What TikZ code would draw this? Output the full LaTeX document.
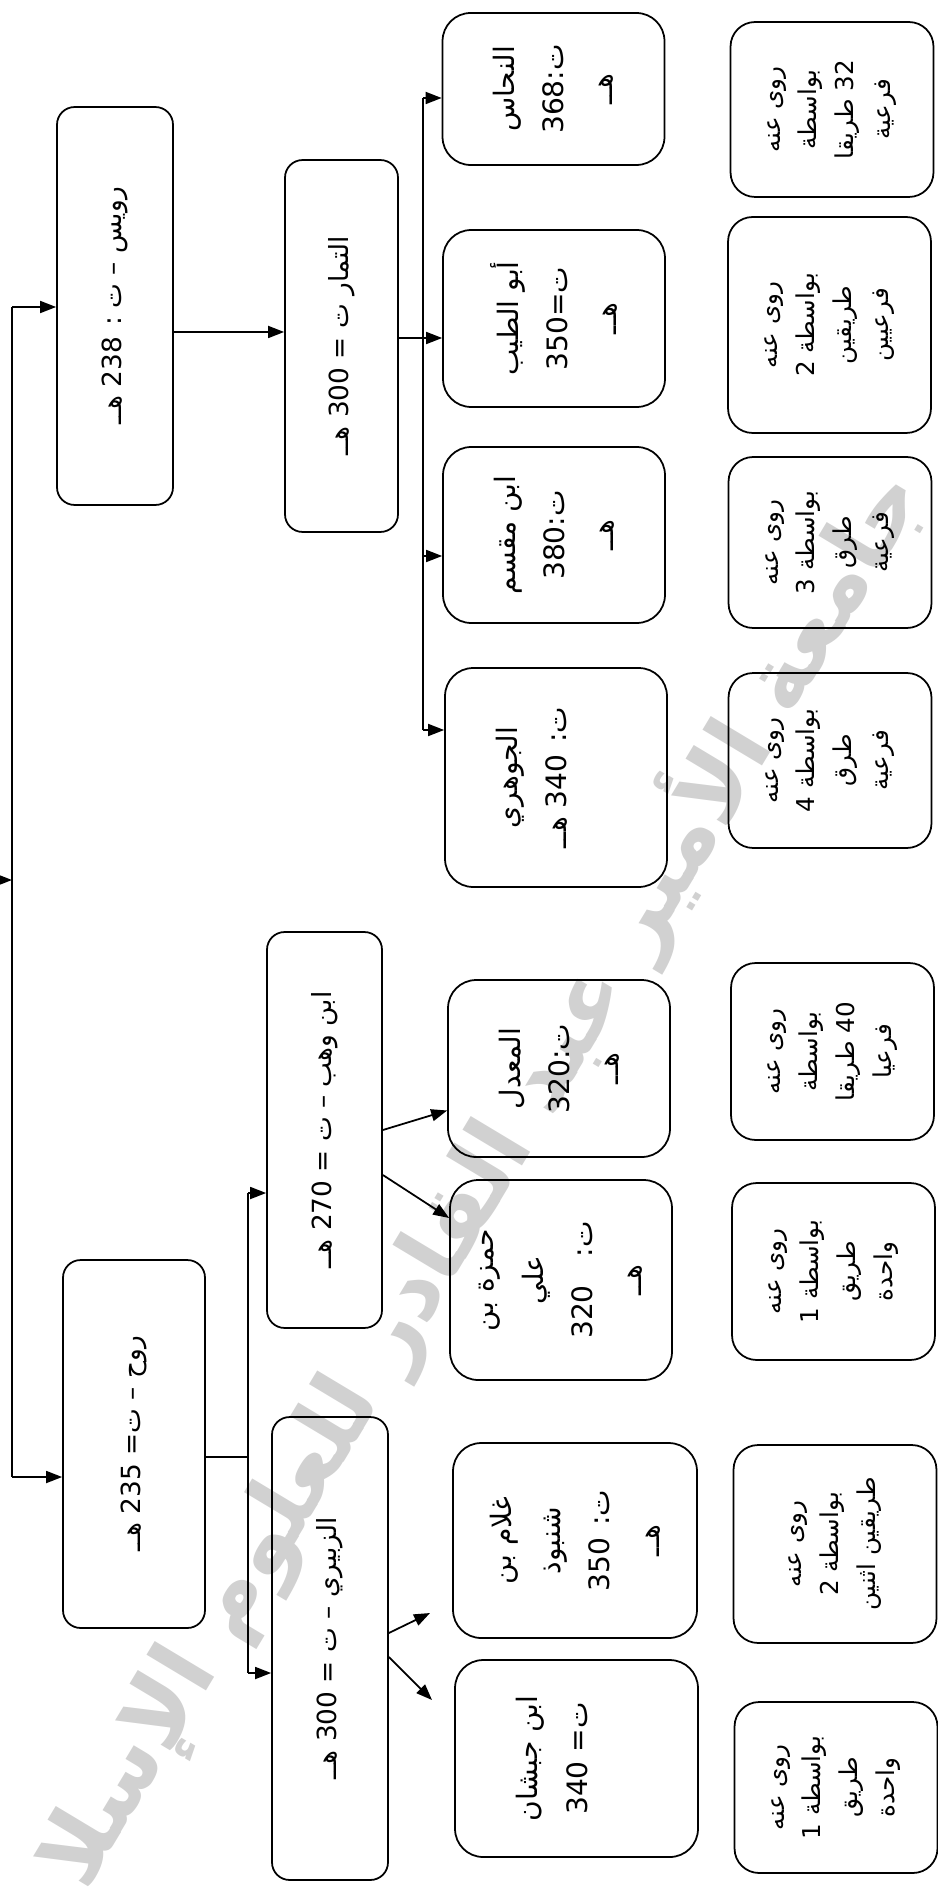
\documentclass[tikz,border=0pt]{standalone}
\usepackage{fontspec}
\usetikzlibrary{arrows.meta}
\newfontfamily\arabicfont[Script=Arabic]{DejaVu Sans}
\TeXXeTstate=1
\newcommand{\ar}[1]{\beginR #1\endR}

\begin{document}
\begin{tikzpicture}[
  x=0.02cm, y=-0.02cm,
  head/.style   = {draw, line width=1pt, rotate=90, rounded corners=10pt,
                   font=\arabicfont\fontsize{15}{18}\selectfont, align=center},
  person/.style = {draw, line width=1pt, rotate=90, rounded corners=16pt,
                   minimum height=4.44cm,
                   font=\arabicfont\fontsize{16}{28}\selectfont, align=center},
  narr/.style   = {draw, line width=1pt, rotate=90, rounded corners=14pt,
                   minimum height=4.06cm,
                   font=\arabicfont\fontsize{14}{21}\selectfont, align=center},
  wmark/.style  = {text=black!18, rotate=59,
                   font=\arabicfont\bfseries\fontsize{52}{52}\selectfont},
  arr/.style    = {-{Triangle[length=0.32cm,width=0.24cm]}, line width=1pt},
  wire/.style   = {line width=1pt}
]
  \useasboundingbox (0,0) rectangle (937,1888);

  % watermark
  \node[wmark] (stamp) at (440,1240) {\ar{جامعة الأمير عبد القادر للعلوم الإسلامية}};

  % first level
  \node[head, minimum width=7.96cm, minimum height=2.32cm] (ruways) at (115,306)
    {\ar{رويس – ت : 238 هــ}};
  \node[head, minimum width=7.36cm, minimum height=2.84cm] (rawh) at (134,1444)
    {\ar{روح – ت= 235 هــ}};

  % second level
  \node[head, minimum width=7.44cm, minimum height=2.26cm] (tammar) at (341.5,346)
    {\ar{التمار ت = 300 هــ}};
  \node[head, minimum width=7.92cm, minimum height=2.30cm] (wahb) at (324.5,1130)
    {\ar{ابن وهب – ت = 270 هــ}};
  \node[head, minimum width=9.26cm, minimum height=2.32cm] (zubayri) at (330,1648.5)
    {\ar{الزبيري – ت = 300 هــ}};

  % third level
  \node[person, minimum width=3.04cm] (nahhas) at (553.5,89)
    {\ar{النحاس}\\\ar{ت:368}\\\ar{هــ}};
  \node[person, minimum width=3.54cm] (tayyib) at (554,318.5)
    {\ar{أبو الطيب}\\\ar{ت=350}\\\ar{هــ}};
  \node[person, minimum width=3.52cm] (miqsam) at (554,535)
    {\ar{ابن مقسم}\\\ar{ت:380}\\\ar{هــ}};
  \node[person, minimum width=4.38cm] (jawhari) at (556,777.5)
    {\ar{الجوهري}\\\ar{ت: 340 هــ}\\\mbox{}};
  \node[person, minimum width=3.54cm] (muaddal) at (559,1068.5)
    {\ar{المعدل}\\\ar{ت:320}\\\ar{هــ}};
  \node[person, minimum width=4.00cm] (hamza) at (561,1280)
    {\ar{حمزة بن}\\\ar{علي}\\\ar{ت:\quad 320}\\\ar{هــ}};
  \node[person, minimum width=3.90cm, minimum height=4.88cm] (ghulam) at (575,1540.5)
    {\ar{غلام بن}\\\ar{شنبوذ}\\\ar{ت: 350}\\\ar{هــ}};
  \node[person, minimum width=3.94cm, minimum height=4.86cm] (habshan) at (576.5,1758.5)
    {\ar{ابن جبشان}\\\ar{ت= 340}\\\mbox{}};

  % fourth level
  \node[narr, minimum width=3.50cm] (r1) at (832,109.5)
    {\ar{روى عنه}\\\ar{بواسطة}\\\ar{32 طريقا}\\\ar{فرعية}};
  \node[narr, minimum width=4.32cm] (r2) at (829.5,325)
    {\ar{روى عنه}\\\ar{بواسطة 2}\\\ar{طريقين}\\\ar{فرعيين}};
  \node[narr, minimum width=3.42cm] (r3) at (830,542.5)
    {\ar{روى عنه}\\\ar{بواسطة 3}\\\ar{طرق}\\\ar{فرعية}};
  \node[narr, minimum width=3.50cm] (r4) at (830,760.5)
    {\ar{روى عنه}\\\ar{بواسطة 4}\\\ar{طرق}\\\ar{فرعية}};
  \node[narr, minimum width=3.54cm] (r5) at (832.5,1051.5)
    {\ar{روى عنه}\\\ar{بواسطة}\\\ar{40 طريقا}\\\ar{فرعيا}};
  \node[narr, minimum width=3.54cm] (r6) at (833.5,1271.5)
    {\ar{روى عنه}\\\ar{بواسطة 1}\\\ar{طريق}\\\ar{واحدة}};
  \node[narr, minimum width=3.96cm] (r7) at (835,1544)
    {\ar{روى عنه}\\\ar{بواسطة 2}\\\ar{طريقين اثنين}};
  \node[narr, minimum width=3.42cm] (r8) at (836,1787.5)
    {\ar{روى عنه}\\\ar{بواسطة 1}\\\ar{طريق}\\\ar{واحدة}};

  % root bus
  \coordinate (rootA) at (12,307);
  \coordinate (rootB) at (12,1477);
  \coordinate (rootM) at (12,880);
  \coordinate (rootIn) at (-30,880);
  \draw[wire] (rootA) -- (rootB);
  \draw[arr] (rootIn) -- (rootM);
  \draw[arr] (rootA) -- (rootA -| ruways.north);
  \draw[arr] (rootB) -- (rootB -| rawh.north);

  % ruways branch
  \coordinate (rt) at ([yshift=-0.52cm]ruways.south);
  \draw[arr] (rt) -- (rt -| tammar.north);
  \coordinate (tb) at ([yshift=0.16cm]tammar.south);
  \coordinate (busT) at (423,98);
  \coordinate (busB) at (423,730);
  \coordinate (busC) at (423,556);
  \draw[wire] (tb) -- (tb -| busT);
  \draw[wire] (busT) -- (busB);
  \draw[arr] (busT) -- (busT -| nahhas.north);
  \draw[arr] (tb -| busT) -- (tb -| tayyib.north);
  \draw[arr] (busC) -- (busC -| miqsam.north);
  \draw[arr] (busB) -- (busB -| jawhari.north);

  % rawh branch
  \coordinate (rb) at ([yshift=-0.26cm]rawh.south);
  \coordinate (busU) at (248,1193);
  \coordinate (busD) at (248,1673);
  \draw[wire] (rb) -- (rb -| busU);
  \draw[wire] (busU) -- (busD);
  \draw[arr] (busU) -- (busU -| wahb.north);
  \draw[arr] (busD) -- (busD -| zubayri.north);

  \draw[arr] (wahb.south) -- ([yshift=-0.84cm]muaddal.north);
  \draw[arr] ([yshift=-0.9cm]wahb.south) -- ([yshift=1.24cm]hamza.north);

  \coordinate (zu1) at (430,1613);
  \coordinate (zu2) at (432,1700);
  \draw[arr] ([yshift=0.31cm]zubayri.south) -- (zu1);
  \draw[arr] ([yshift=-0.17cm]zubayri.south) -- (zu2);
\end{tikzpicture}
\end{document}
